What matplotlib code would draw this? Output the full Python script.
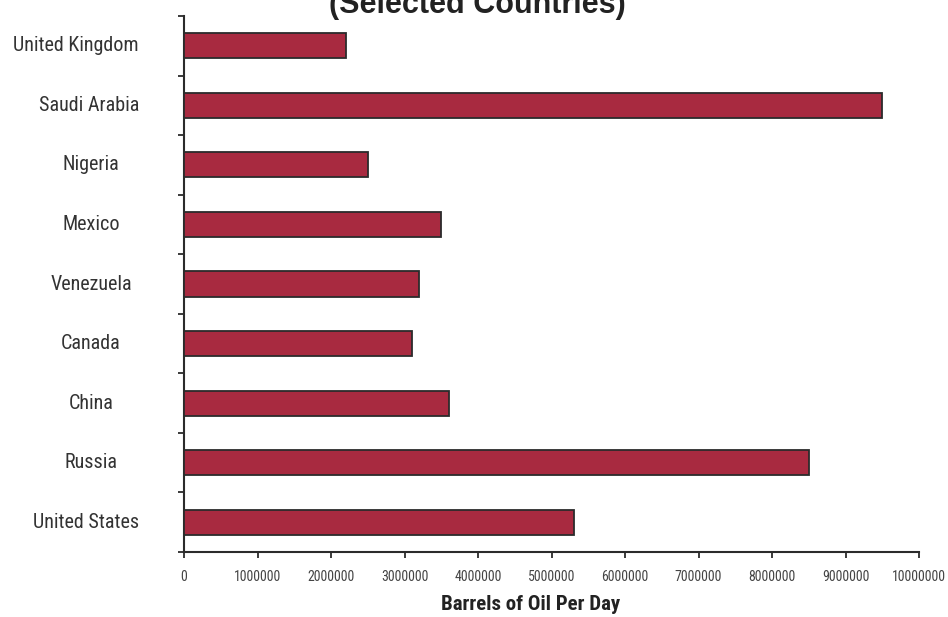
import matplotlib
matplotlib.use("Agg")
import matplotlib.pyplot as plt
from matplotlib import font_manager as fm
from matplotlib.ticker import FixedLocator

countries = ["United States", "Russia", "China", "Canada", "Venezuela",
             "Mexico", "Nigeria", "Saudi Arabia", "United Kingdom"]
barrels = [5300000, 8500000, 3600000, 3100000, 3200000,
           3500000, 2500000, 9500000, 2200000]
xticks = list(range(0, 10000001, 1000000))

# pick a narrow font if any is installed
fonts = fm.fontManager.ttflist
names = {f.name for f in fonts}
narrow_props = None
for cand in ["Liberation Sans Narrow", "Arial Narrow", "Roboto Condensed",
             "DejaVu Sans Condensed", "Open Sans Condensed", "Noto Sans Condensed"]:
    if cand in names:
        narrow_props = dict(family=[cand, "DejaVu Sans"])
        break
if narrow_props is None:
    for f in fonts:
        if f.stretch in ("condensed", "semi-condensed", "extra-condensed") or \
                "ondensed" in f.name or "Narrow" in f.name:
            narrow_props = dict(family=[f.name, "DejaVu Sans"], stretch=f.stretch)
            break
if narrow_props is None:
    narrow_props = dict(family=["DejaVu Sans"], stretch="condensed")


def NP(size, weight="normal"):
    return fm.FontProperties(size=size, weight=weight, **narrow_props)


BOLD = ["Liberation Sans", "DejaVu Sans"]
BAR = "#A82A40"
DARK = "#2b2b2b"

W, H = 948, 617
fig = plt.figure(figsize=(W / 100, H / 100), dpi=100)
ax = fig.add_axes([184 / W, (H - 552) / H, 735 / W, 536 / H])

ypos = list(range(len(countries)))
ax.barh(ypos, barrels, height=0.42, color=BAR, edgecolor=DARK, linewidth=1.3, zorder=3)

ax.set_xlim(0, 10000000)
ax.set_ylim(-0.5, len(countries) - 0.5)
ax.set_xticks(xticks)
ax.set_xticklabels([str(v) for v in xticks], fontproperties=NP(10), color="#444444")
ax.yaxis.set_major_locator(FixedLocator([i - 0.5 for i in range(len(countries) + 1)]))
ax.set_yticklabels([])
ax.tick_params(axis="x", direction="out", length=4, width=1.3, color=DARK, pad=9)
ax.tick_params(axis="y", direction="out", length=4, width=1.3, color=DARK)

for s in ["top", "right"]:
    ax.spines[s].set_visible(False)
for s in ["left", "bottom"]:
    ax.spines[s].set_color(DARK)
    ax.spines[s].set_linewidth(1.5)

# category labels: centered at ~91px, clamped on the right at ~139px
fig.canvas.draw()
renderer = fig.canvas.get_renderer()
center_px, right_px = 91, 139
for y, name in zip(ypos, countries):
    ypix = ax.transData.transform((0, y))[1]
    t = fig.text(center_px / W, ypix / H, name, fontproperties=NP(14.5),
                 color="#333333", ha="center", va="center")
    bb = t.get_window_extent(renderer)
    if bb.x1 > right_px:
        t.set_ha("right")
        t.set_x(right_px / W)

fig.text(531 / W, (H - 605) / H, "Barrels of Oil Per Day", fontproperties=NP(15, "bold"),
         color="#222222", ha="center", va="center")
fig.text(477 / W, (H - 13) / H, "Crude Oil Production\n(Selected Countries)",
         fontfamily=BOLD, fontsize=22, fontweight="bold", color="#222222",
         ha="center", va="baseline", linespacing=1.1)

fig.savefig("out.png", dpi=100)
